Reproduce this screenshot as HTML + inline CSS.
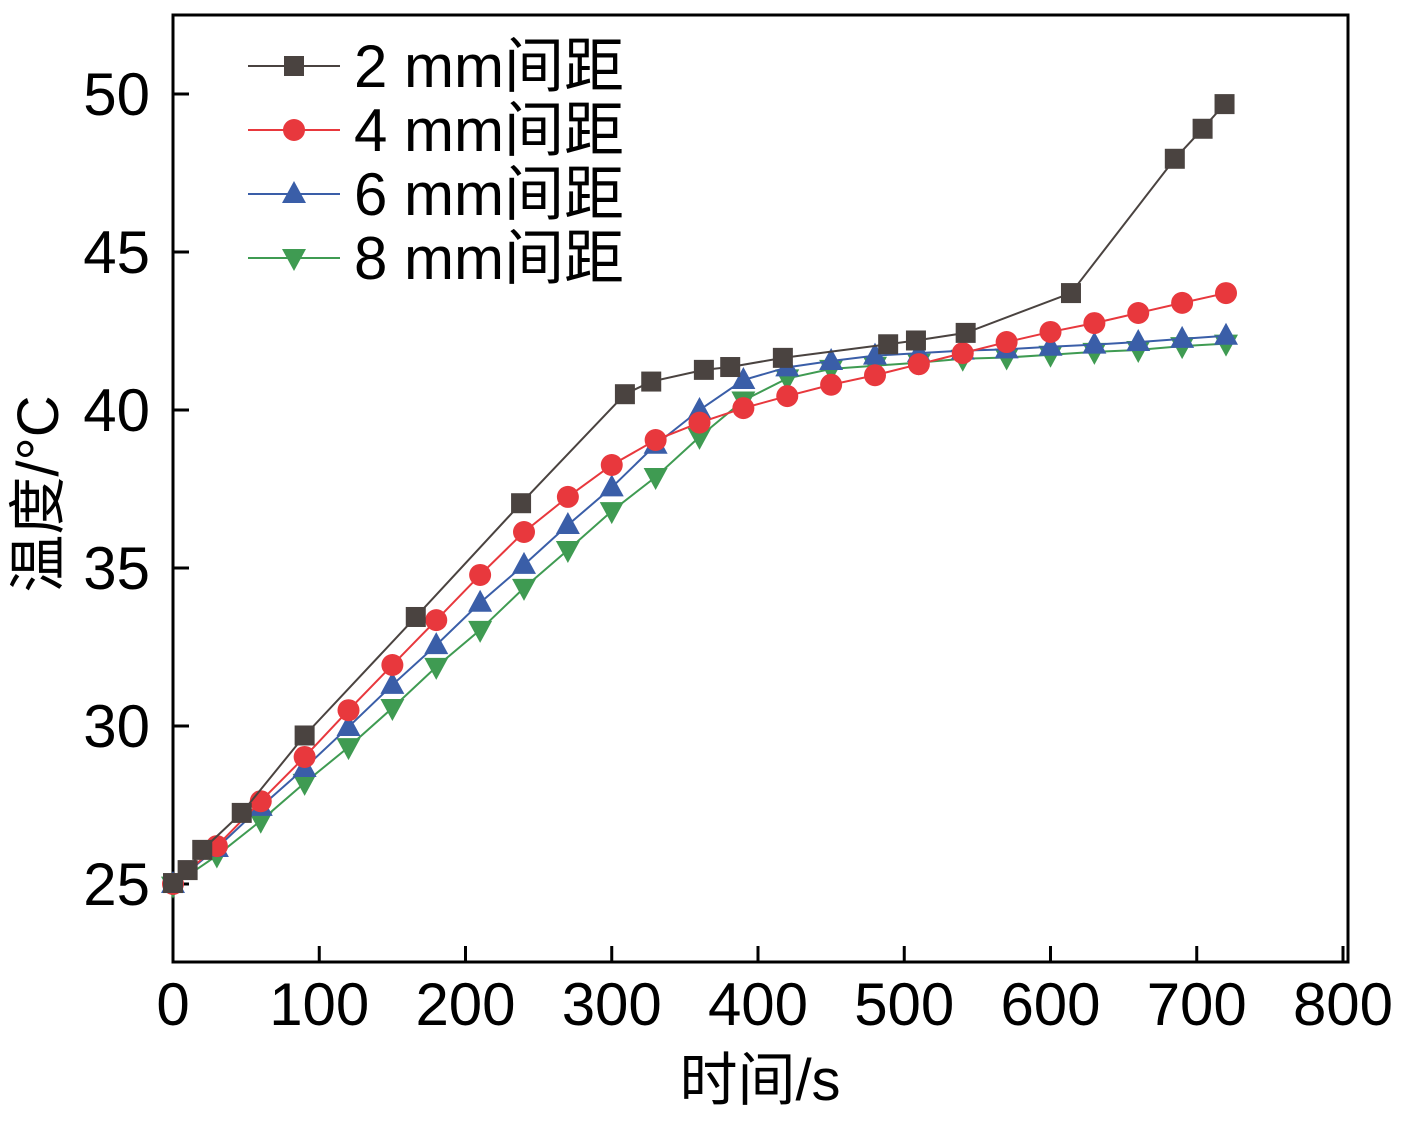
<!DOCTYPE html>
<html><head><meta charset="utf-8"><style>
body{margin:0;background:#fff;}
svg text{font-family:"Liberation Sans","Noto Sans CJK SC",sans-serif;}
</style></head><body>
<svg id="chart" width="1412" height="1116" viewBox="0 0 1412 1116" xmlns="http://www.w3.org/2000/svg"></svg>
<script>
const xTicks=[0,100,200,300,400,500,600,700,800];
const yTicks=[25,30,35,40,45,50];
const seriesNames=["2 mm间距","4 mm间距","6 mm间距","8 mm间距"];
const x2=[0,10,20,47,90,166,238,309,327,363,381,417,489,508,542,614,685,704,719];
const y2=[25.03,25.44,26.08,27.25,29.7,33.45,37.05,40.5,40.9,41.27,41.36,41.65,42.08,42.2,42.44,43.7,47.95,48.9,49.68];
const xStd=[0,30,60,90,120,150,180,210,240,270,300,330,360,390,420,450,480,510,540,570,600,630,660,690,720];
const y4=[25.0,26.2,27.62,29.02,30.5,31.93,33.35,34.78,36.14,37.25,38.26,39.05,39.6,40.06,40.44,40.8,41.1,41.45,41.8,42.15,42.47,42.75,43.07,43.39,43.7];
const y6=[25.0,26.14,27.44,28.67,29.97,31.3,32.56,33.9,35.1,36.36,37.55,38.9,40.0,40.95,41.35,41.55,41.72,41.8,41.88,41.92,42.0,42.07,42.15,42.25,42.35];
const y8=[24.95,25.9,27.0,28.2,29.33,30.57,31.87,33.04,34.37,35.57,36.8,37.88,39.15,40.3,41.0,41.3,41.4,41.5,41.62,41.66,41.75,41.84,41.9,42.02,42.1];
const colors=["#4a4340","#e8383d","#3a5ea8","#3f9b52"];
const NS="http://www.w3.org/2000/svg";
const svg=document.getElementById('chart');
const X0=173,XS=1.4625,Y0=884,YS=31.6;
const sx=v=>X0+v*XS, sy=v=>Y0-(v-25)*YS;
function mk(tag,attrs,parent){const e=document.createElementNS(NS,tag);for(const k in attrs)e.setAttribute(k,attrs[k]);(parent||svg).appendChild(e);return e;}
let frame=mk('rect',{x:173,y:15,width:1175,height:947,fill:'none',stroke:'#000','stroke-width':3});


xTicks.forEach(t=>{
  let l=mk('line',{x1:sx(t),x2:sx(t),y1:962,y2:946,stroke:'#000','stroke-width':3});
  
  
  let tx=mk('text',{x:sx(t),y:1025,'font-size':60,'text-anchor':'middle'});tx.textContent=t;
  
  
});
yTicks.forEach(t=>{
  let l=mk('line',{x1:173,x2:189,y1:sy(t),y2:sy(t),stroke:'#000','stroke-width':3});
  
  
  let tx=mk('text',{x:150,y:sy(t)+21,'font-size':60,'text-anchor':'end'});tx.textContent=t;
  
  
});
let xt=mk('text',{x:760,y:1100,'font-size':58,'text-anchor':'middle'});xt.textContent='时间/s';


let yt=mk('text',{x:0,y:0,'font-size':58,'text-anchor':'middle',transform:'translate(58,494) rotate(-90)'});yt.textContent='温度/°C';


function marker(type,cx,cy,color,g){
  let m;
  if(type===0)m=mk('rect',{x:cx-10,y:cy-10,width:20,height:20,fill:color},g);
  else if(type===1)m=mk('circle',{cx:cx,cy:cy,r:11,fill:color},g);
  else if(type===2)m=mk('polygon',{points:`${cx},${cy-13} ${cx-12},${cy+9} ${cx+12},${cy+9}`,fill:color},g);
  else m=mk('polygon',{points:`${cx},${cy+13} ${cx-12},${cy-9} ${cx+12},${cy-9}`,fill:color},g);
  return m;
}
const allX=[x2,xStd,xStd,xStd], allY=[y2,y4,y6,y8];
[3,2,1,0].forEach(i=>{
  const g=mk('g',{});
  
  
  const pts=allX[i].map((v,j)=>sx(v)+','+sy(allY[i][j])).join(' ');
  let pl=mk('polyline',{points:pts,fill:'none',stroke:colors[i],'stroke-width':2},g);
  
  
  allX[i].forEach((v,j)=>{
    let m=marker(i,sx(v),sy(allY[i][j]),colors[i],g);
    
    
  });
});
const lg=mk('g',{});


seriesNames.forEach((n,i)=>{
  const y=66+i*64;
  const e=mk('g',{},lg);
  
  
  mk('line',{x1:248,x2:340,y1:y,y2:y,stroke:colors[i],'stroke-width':2},e);
  marker(i,294,y,colors[i],e);
  let t=mk('text',{x:354,y:y+21,'font-size':60},e);t.textContent=n;
});
</script>
</body></html>
